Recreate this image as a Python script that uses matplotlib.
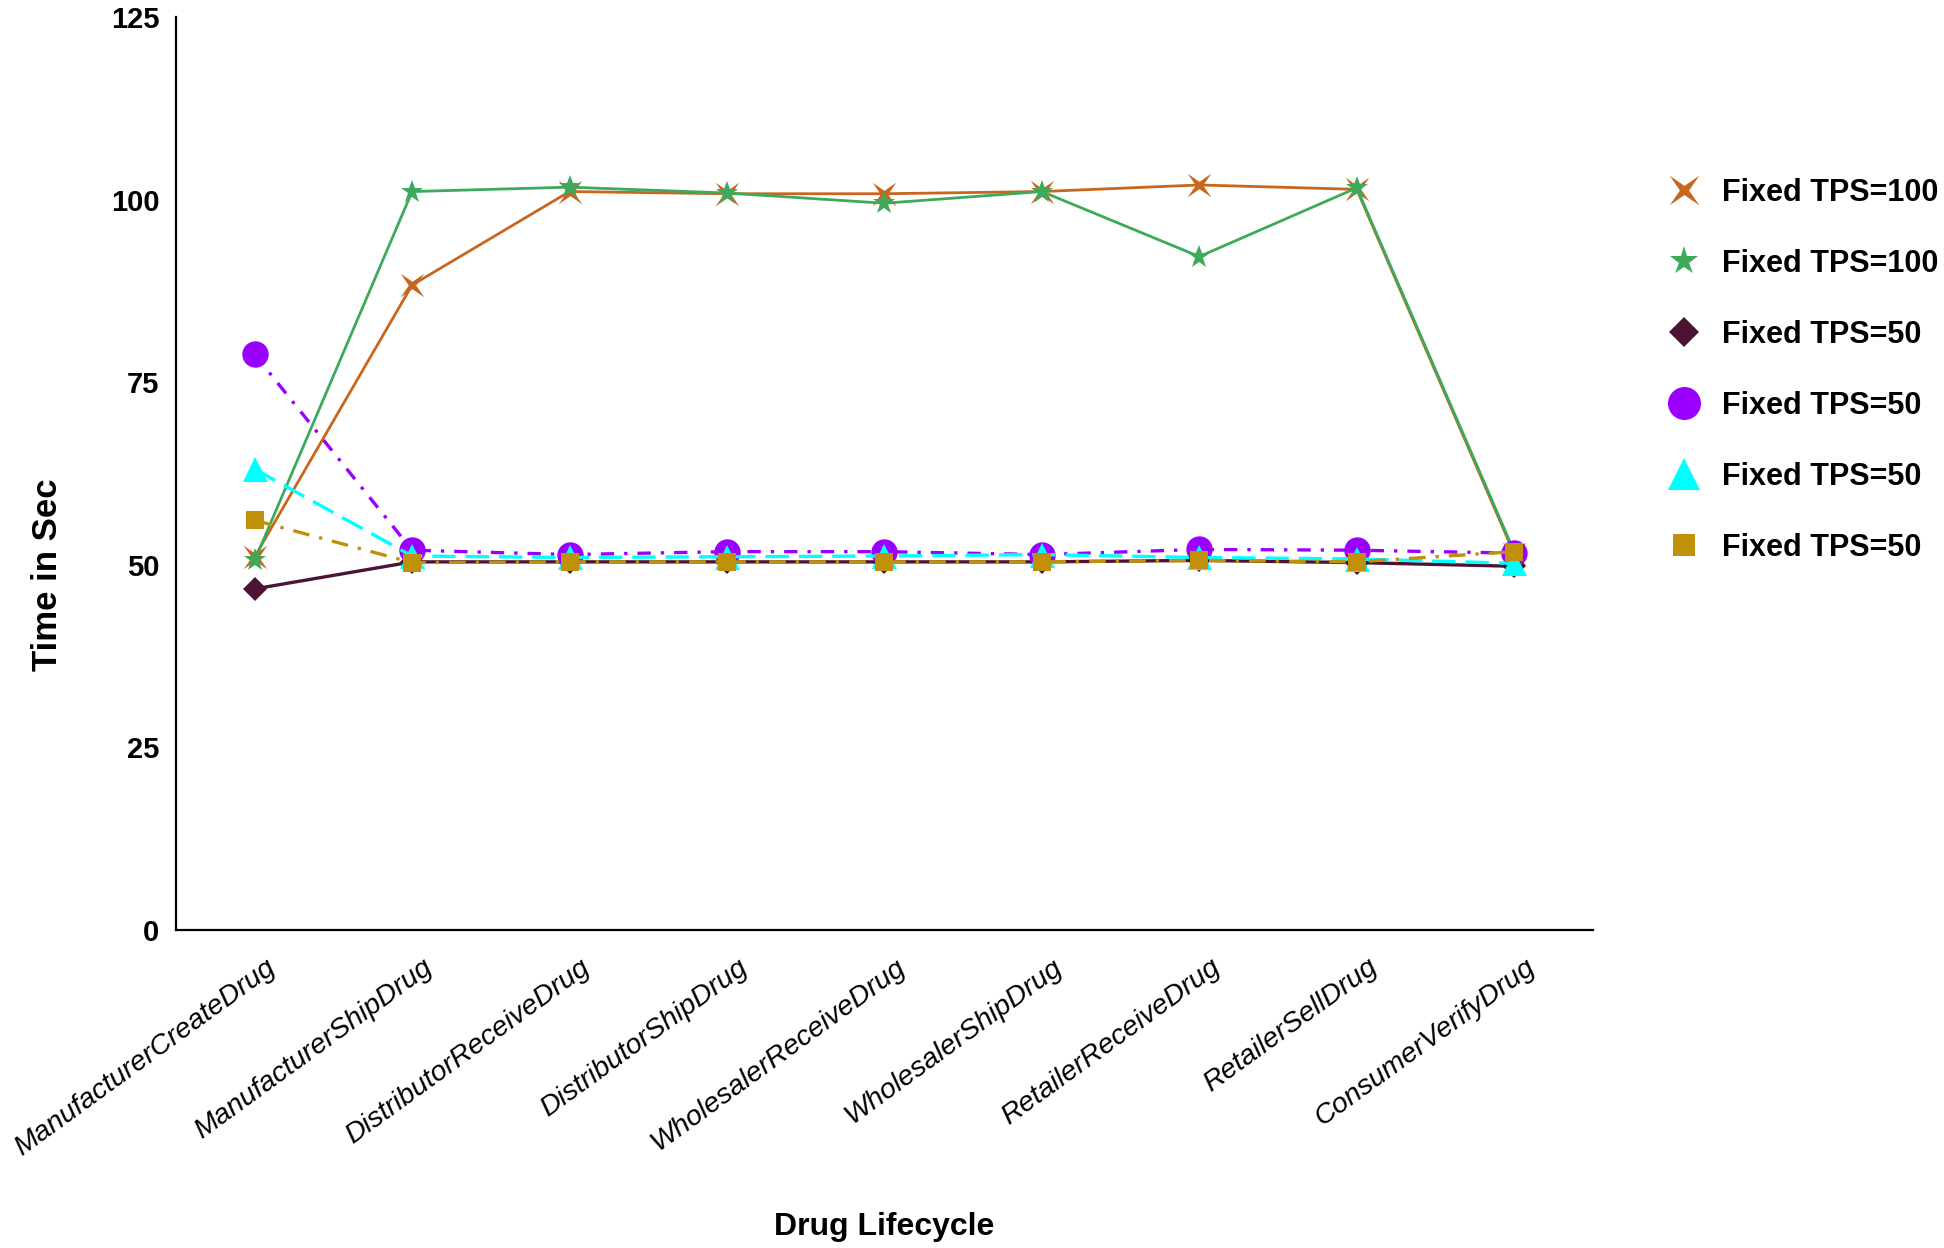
import matplotlib
matplotlib.use('Agg')
import matplotlib.pyplot as plt
from matplotlib.path import Path
from matplotlib.transforms import Affine2D, ScaledTranslation
from matplotlib.lines import Line2D

plt.rcParams['font.family'] = ['Liberation Sans', 'DejaVu Sans']

categories = ['ManufacturerCreateDrug', 'ManufacturerShipDrug', 'DistributorReceiveDrug',
              'DistributorShipDrug', 'WholesalerReceiveDrug', 'WholesalerShipDrug',
              'RetailerReceiveDrug', 'RetailerSellDrug', 'ConsumerVerifyDrug']

tps100_a = [51.1, 88.3, 101.1, 100.8, 100.8, 101.1, 102.0, 101.4, 51.5]
tps100_b = [50.6, 101.1, 101.7, 100.9, 99.5, 101.1, 92.2, 101.6, 51.8]
tps50_a = [46.7, 50.4, 50.4, 50.4, 50.4, 50.4, 50.6, 50.3, 49.8]
tps50_b = [78.8, 52.0, 51.4, 51.8, 51.8, 51.4, 52.1, 52.0, 51.6]
tps50_c = [63.1, 51.2, 51.0, 51.1, 51.2, 51.4, 51.0, 50.8, 50.2]
tps50_d = [56.1, 50.3, 50.4, 50.4, 50.4, 50.4, 50.6, 50.4, 51.8]

series_labels = ['Fixed TPS=100', 'Fixed TPS=100', 'Fixed TPS=50',
                 'Fixed TPS=50', 'Fixed TPS=50', 'Fixed TPS=50']
yticks = [0, 25, 50, 75, 100, 125]

# thin four-point star marker (an "x"-like cross)
cross = Path.unit_regular_star(4, innerCircle=0.22).transformed(Affine2D().rotate_deg(45))

styles = [
    dict(color='#C8661E', marker=cross, markersize=17, linestyle='-', linewidth=2.0),
    dict(color='#3CAA5A', marker='*', markersize=17, linestyle='-', linewidth=2.0),
    dict(color='#4B1434', marker='D', markersize=12, linestyle='-', linewidth=2.4),
    dict(color='#9B00FF', marker='o', markersize=19, linestyle=(0, (4, 3, 1, 3)), linewidth=2.4),
    dict(color='#00FFFF', marker='^', markersize=18, linestyle=(0, (7, 3)), linewidth=2.4),
    dict(color='#C0900A', marker='s', markersize=13, linestyle=(0, (5, 3, 1, 3)), linewidth=2.4),
]
series = [tps100_a, tps100_b, tps50_a, tps50_b, tps50_c, tps50_d]

fig = plt.figure(figsize=(19.44, 12.48), dpi=100)
ax = fig.add_axes([0.0905, 0.2548, 0.7289, 0.7316])

x = list(range(len(categories)))
for vals, st in zip(series, styles):
    ax.plot(x, vals, markeredgewidth=0, **st)

ax.set_xlim(-0.5, 8.5)
ax.set_ylim(0, 125)
ax.set_yticks(yticks)
ax.set_yticklabels([str(v) for v in yticks], fontsize=21, fontweight='bold')
ax.tick_params(axis='y', length=0, pad=12)

ax.set_xticks(x)
ax.set_xticklabels(categories, rotation=36, ha='right', va='center',
                   rotation_mode='anchor', fontstyle='italic', fontsize=20.5)
ax.tick_params(axis='x', length=0, pad=25)
offset = ScaledTranslation(0.18, 0, fig.dpi_scale_trans)
for lbl in ax.get_xticklabels():
    lbl.set_transform(lbl.get_transform() + offset)

for s in ['top', 'right']:
    ax.spines[s].set_visible(False)
for s in ['left', 'bottom']:
    ax.spines[s].set_linewidth(1.6)
    ax.spines[s].set_color('black')

ax.set_ylabel('Time in Sec', fontsize=25, fontweight='bold')
ax.yaxis.set_label_coords(-0.079, 0.389)
ax.set_xlabel('Drug Lifecycle', fontsize=23, fontweight='bold')
ax.xaxis.set_label_coords(0.5, -0.309)

handles = []
for st in styles:
    h = Line2D([], [], linestyle='none', marker=st['marker'], color=st['color'],
               markersize=st['markersize'] * 1.25, markeredgewidth=0)
    handles.append(h)

fig.legend(handles, series_labels, loc='upper left', bbox_to_anchor=(0.8585, 0.8575),
           frameon=False, prop={'size': 22, 'weight': 'bold'}, handlelength=1.0,
           handletextpad=0.75, labelspacing=1.34, borderpad=0, borderaxespad=0)

fig.savefig('out.png', dpi=100, facecolor='white')
